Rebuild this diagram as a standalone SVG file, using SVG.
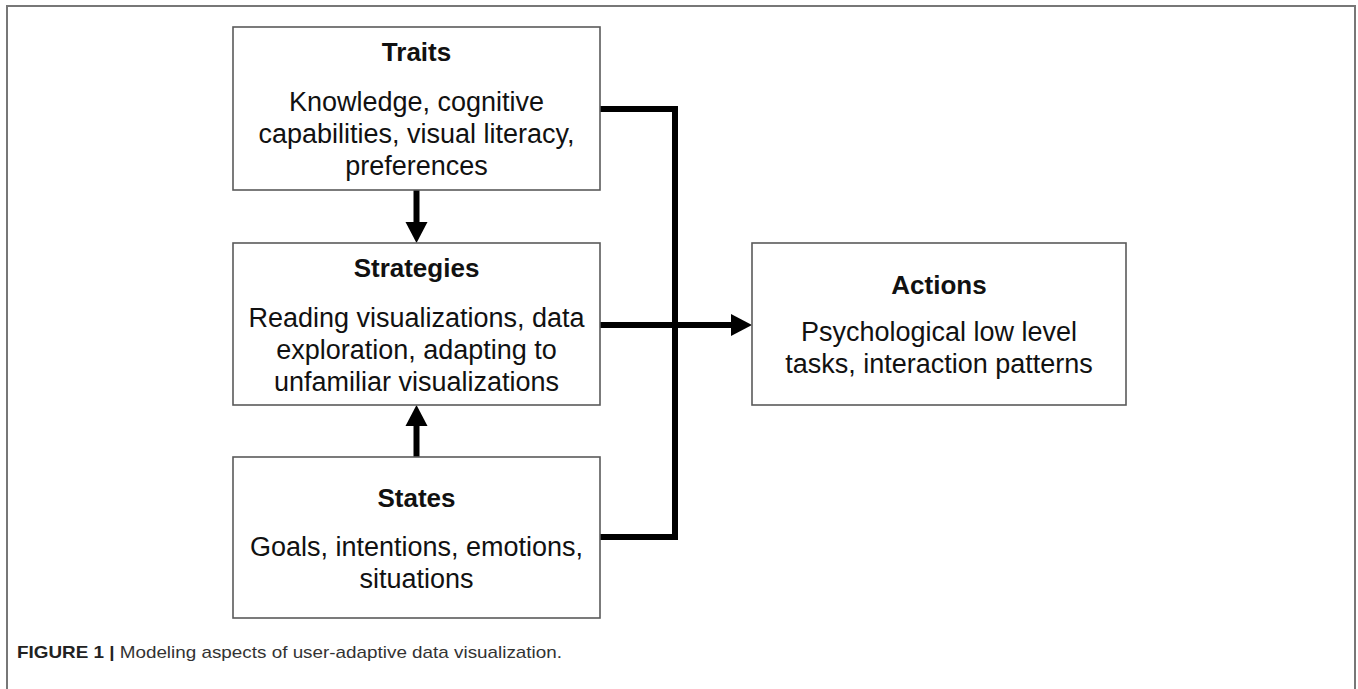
<svg xmlns="http://www.w3.org/2000/svg" width="1358" height="689" viewBox="0 0 1358 689">
  <style>
    .box { fill: #ffffff; stroke: #5a5a5a; stroke-width: 1.6; }
    .title { font-family: "Liberation Sans", Arial, sans-serif; font-weight: bold; font-size: 26px; fill: #111; text-anchor: middle; }
    .body { font-family: "Liberation Sans", Arial, sans-serif; font-size: 27px; fill: #111; text-anchor: middle; }
    .conn { fill: none; stroke: #000; stroke-width: 6; stroke-linejoin: miter; }
    .head { fill: #000; }
    .cap { font-family: "Liberation Sans", Arial, sans-serif; font-size: 17px; fill: #333; }
  </style>
  <rect width="1358" height="689" fill="#ffffff"/>
  <path d="M7,689 V6 H1355 V689" fill="none" stroke="#777" stroke-width="2"/>

  <g id="connectors">
    <path class="conn" d="M416.5,190 V223"/>
    <polygon class="head" points="405.5,222 427.5,222 416.5,243"/>
    <path class="conn" d="M416.5,457 V425"/>
    <polygon class="head" points="405.5,426 427.5,426 416.5,405"/>
    <path class="conn" d="M600,109 H675 V537 H600"/>
    <path class="conn" d="M600,325 H733"/>
    <polygon class="head" points="731,314 731,336 752,325"/>
  </g>

  <g id="traits">
    <rect class="box" x="233" y="27" width="367" height="163"/>
    <text class="title" x="416.5" y="61">Traits</text>
    <text class="body" x="416.5" y="111">Knowledge, cognitive</text>
    <text class="body" x="416.5" y="143">capabilities, visual literacy,</text>
    <text class="body" x="416.5" y="175">preferences</text>
  </g>

  <g id="strategies">
    <rect class="box" x="233" y="243" width="367" height="162"/>
    <text class="title" x="416.5" y="277">Strategies</text>
    <text class="body" x="416.5" y="327">Reading visualizations, data</text>
    <text class="body" x="416.5" y="359">exploration, adapting to</text>
    <text class="body" x="416.5" y="391">unfamiliar visualizations</text>
  </g>

  <g id="states">
    <rect class="box" x="233" y="457" width="367" height="161"/>
    <text class="title" x="416.5" y="507">States</text>
    <text class="body" x="416.5" y="556">Goals, intentions, emotions,</text>
    <text class="body" x="416.5" y="588">situations</text>
  </g>

  <g id="actions">
    <rect class="box" x="752" y="243" width="374" height="162"/>
    <text class="title" x="939" y="294">Actions</text>
    <text class="body" x="939" y="341">Psychological low level</text>
    <text class="body" x="939" y="373">tasks, interaction patterns</text>
  </g>

  <g id="caption">
    <text class="cap" x="17" y="658" textLength="545" lengthAdjust="spacingAndGlyphs"><tspan font-weight="bold" fill="#222">FIGURE 1 | </tspan>Modeling aspects of user-adaptive data visualization.</text>
  </g>
</svg>
